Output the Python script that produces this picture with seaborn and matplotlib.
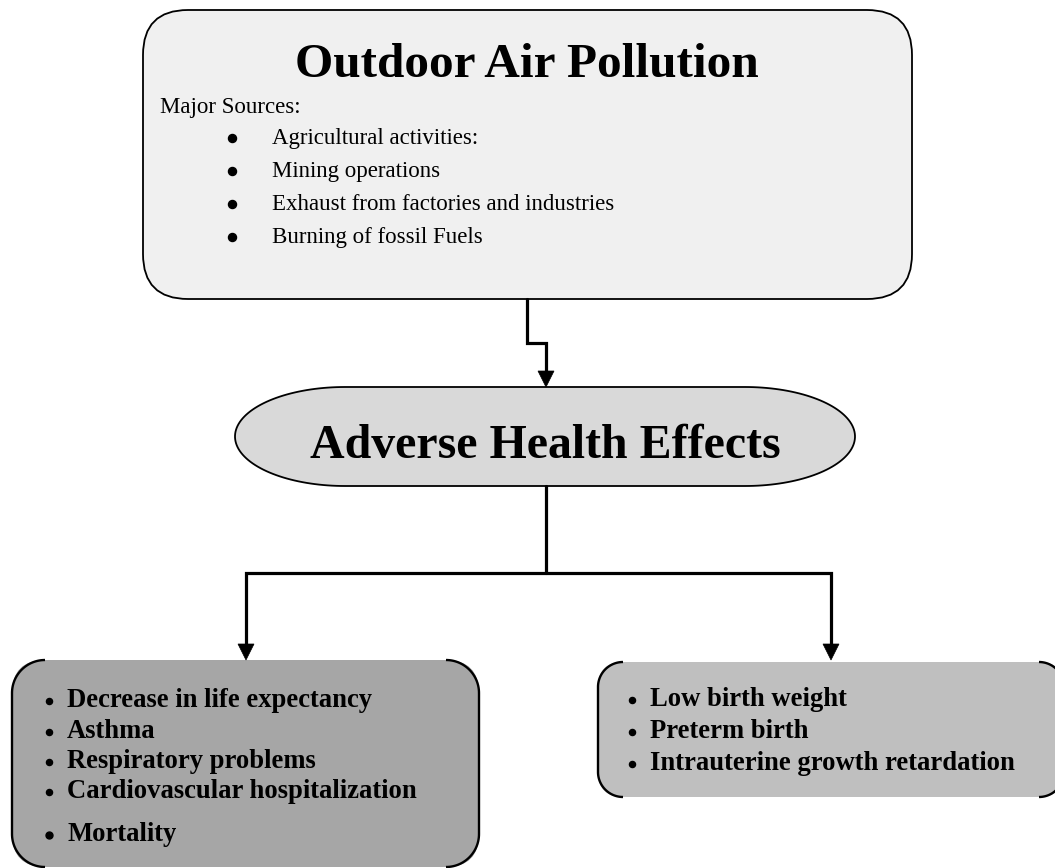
import numpy as np
import matplotlib
matplotlib.use("Agg")
import matplotlib.pyplot as plt
import seaborn as sns
from matplotlib.patches import FancyBboxPatch, Polygon

# ---- content ----
top_title = "Outdoor Air Pollution"
top_subtitle = "Major Sources:"
sources = ["Agricultural activities:", "Mining operations",
           "Exhaust from factories and industries", "Burning of fossil Fuels"]
middle_title = "Adverse Health Effects"
effects_left = ["Decrease in life expectancy", "Asthma", "Respiratory problems",
                "Cardiovascular hospitalization", "Mortality"]
effects_right = ["Low birth weight", "Preterm birth", "Intrauterine growth retardation"]

sns.set_theme(style="white")
plt.rcParams['font.family'] = ['Liberation Serif', 'DejaVu Serif']
plt.rcParams['text.color'] = 'black'

W, H = 1055, 868
fig = plt.figure(figsize=(W / 100, H / 100), dpi=100)
ax = fig.add_axes([0, 0, 1, 1])
ax.set_xlim(0, W)
ax.set_ylim(H, 0)
ax.axis("off")

LW_BOX = 1.3
LW_CON = 2.3

# ---- top box ----
top = FancyBboxPatch((143, 10), 912 - 143, 299 - 10,
                     boxstyle="round,pad=0,rounding_size=45",
                     fc="#f0f0f0", ec="black", lw=LW_BOX)
ax.add_patch(top)
ax.text(527, 77, top_title, ha="center", va="baseline", fontsize=35.5, fontweight="bold")
ax.text(160, 113, top_subtitle, ha="left", va="baseline", fontsize=16.5)
src_base = [144, 177, 210, 243]
for y, s in zip(src_base, sources):
    ax.plot([232], [y - 6], marker="o", ms=5.8, color="black", mec="black")
    ax.text(272, y, s, ha="left", va="baseline", fontsize=16.5)

# ---- middle shape with elliptic ends ----
x0, x1, y0, y1, a = 235, 855, 387, 486, 110
cy = (y0 + y1) / 2
b = (y1 - y0) / 2
t = np.linspace(np.pi / 2, -np.pi / 2, 80)
right = np.column_stack([x1 - a + a * np.cos(t), cy - b * np.sin(t)])
t2 = np.linspace(-np.pi / 2, -3 * np.pi / 2, 80)
left = np.column_stack([x0 + a + a * np.cos(t2), cy - b * np.sin(t2)])
verts = np.vstack([[x0 + a, y0], right, left, [[x0 + a, y0]]])
ax.add_patch(Polygon(verts, closed=True, fc="#d9d9d9", ec="black", lw=LW_BOX))
ax.text(545, 458, middle_title, ha="center", va="baseline", fontsize=34.5, fontweight="bold")


# ---- bottom boxes: fill + only corner arcs and vertical sides ----
def side_box(xl, yt, xr, yb, r, fc):
    ax.add_patch(FancyBboxPatch((xl, yt), xr - xl, yb - yt,
                                boxstyle=f"round,pad=0,rounding_size={r}",
                                fc=fc, ec="none"))
    for xs, sgn in ((xl, 1), (xr, -1)):
        th = np.linspace(0, np.pi / 2, 30)
        top_arc = np.column_stack([xs + sgn * (r - r * np.cos(th)), yt + r - r * np.sin(th)])
        bot_arc = np.column_stack([xs + sgn * (r - r * np.cos(th)), yb - r + r * np.sin(th)])
        pts = np.vstack([top_arc[::-1], bot_arc])
        ax.plot(pts[:, 0], pts[:, 1], color="black", lw=LW_BOX + 0.4,
                solid_capstyle="butt")


side_box(12, 660, 479, 867, 33, "#a6a6a6")
side_box(598, 662, 1064, 797, 25, "#bfbfbf")

left_base = [707, 738, 768, 798, 841]
for i, (y, s) in enumerate(zip(left_base, effects_left)):
    ms = 5.0 if i == len(effects_left) - 1 else 4.4
    ax.plot([49], [y - 6], marker="o", ms=ms, color="black", mec="black")
    ax.text(67, y, s, ha="left", va="baseline", fontsize=19.2, fontweight="bold")
right_base = [706, 738, 770]
for y, s in zip(right_base, effects_right):
    ax.plot([632], [y - 6], marker="o", ms=4.4, color="black", mec="black")
    ax.text(650, y, s, ha="left", va="baseline", fontsize=19.2, fontweight="bold")


# ---- connectors ----
def arrow_head(x, ytip, w=8, h=16):
    ax.add_patch(Polygon([[x - w, ytip - h], [x + w, ytip - h], [x, ytip]],
                         closed=True, fc="black", ec="black", lw=0.5))


ax.plot([527, 527, 546, 546], [299, 343, 343, 372], color="black", lw=LW_CON,
        solid_joinstyle="miter")
arrow_head(546, 387)
ax.plot([546, 546], [486, 573], color="black", lw=LW_CON)
ax.plot([246, 246, 831, 831], [645, 573, 573, 645], color="black", lw=LW_CON,
        solid_joinstyle="miter")
arrow_head(246, 660)
arrow_head(831, 660)

fig.savefig("out.png", dpi=100)
